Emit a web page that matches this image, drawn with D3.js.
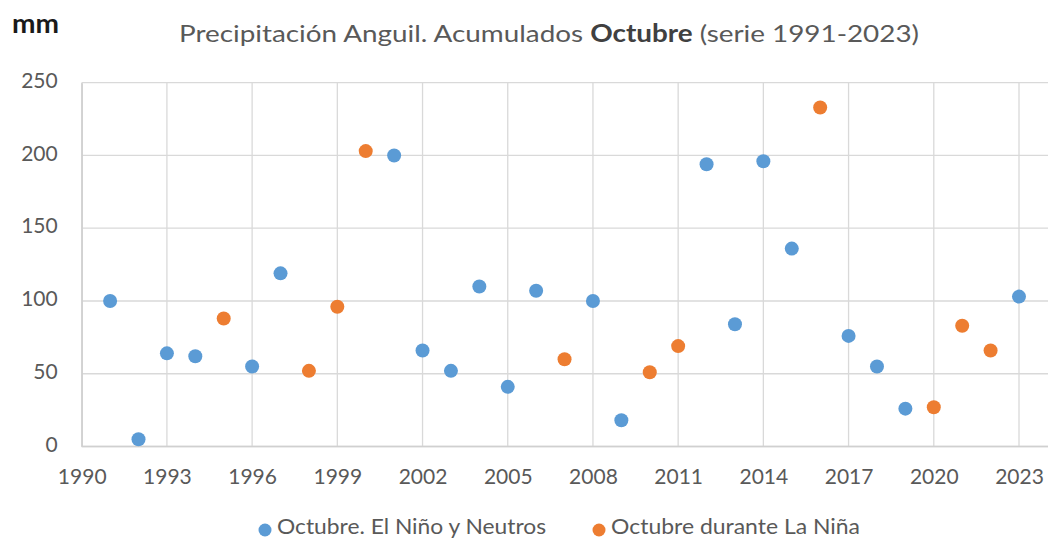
<!DOCTYPE html>
<html><head><meta charset="utf-8">
<script src="https://cdn.jsdelivr.net/npm/d3@7"></script>
<style>body{margin:0;background:#fff}svg{display:block}text{font-family:Lato,"Open Sans",sans-serif}</style>
</head><body>
<svg id="c" width="1048" height="539"></svg>
<script>
const ninoYears = [1991,1992,1993,1994,1996,1997,2001,2002,2003,2004,2005,2006,2008,2009,2012,2013,2014,2015,2017,2018,2019,2023];
const ninoValues = [100,5,64,62,55,119,200,66,52,110,41,107,100,18,194,84,196,136,76,55,26,103];
const ninaYears = [1995,1998,1999,2000,2007,2010,2011,2016,2020,2021,2022];
const ninaValues = [88,52,96,203,60,51,69,233,27,83,66];
const xTicks = [1990,1993,1996,1999,2002,2005,2008,2011,2014,2017,2020,2023];
const yTicks = [0,50,100,150,200,250];
const seriesNames = ["Octubre. El Niño y Neutros","Octubre durante La Niña"];
const titleParts = ["Precipitación Anguil. Acumulados ","Octubre"," (serie 1991-2023)"];

const svg = d3.select("#c");
const x = d3.scaleLinear().domain([1990,2024]).range([81.7,1047.4]);
const y = d3.scaleLinear().domain([0,250]).range([446.5,82.7]);
const grid = "#d9d9d9", txt = "#595959";

// gridlines
svg.append("g").selectAll("line").data(yTicks).join("line")
  .attr("x1",x(1990)).attr("x2",1048).attr("y1",d=>y(d)).attr("y2",d=>y(d))
  .attr("stroke",grid).attr("stroke-width",1.3);
svg.append("g").selectAll("line").data(xTicks).join("line")
  .attr("x1",d=>x(d)).attr("x2",d=>x(d)).attr("y1",y(250)).attr("y2",y(0))
  .attr("stroke",grid).attr("stroke-width",1.3);
svg.append("line").attr("x1",x(1990)).attr("x2",1048).attr("y1",y(0)).attr("y2",y(0)).attr("stroke","#d0d0d0").attr("stroke-width",1.5);

// axes
const ya = d3.axisLeft(y).tickValues(yTicks).tickSize(0).tickPadding(24);
const gy = svg.append("g").attr("transform",`translate(${x(1990)},0)`).call(ya);
gy.select(".domain").attr("stroke","#d0d0d0").attr("stroke-width",1.5);
gy.selectAll("text").attr("fill",txt).attr("font-size",21).attr("font-family","Lato").attr("dy","0.22em");
const xa = d3.axisBottom(x).tickValues(xTicks).tickFormat(d3.format("d")).tickSize(0);
const gx = svg.append("g").attr("transform",`translate(0,${y(0)})`).call(xa);
gx.select(".domain").remove();
gx.selectAll("text").attr("fill",txt).attr("font-size",21).attr("font-family","Lato").attr("y",37).attr("dy",0);

// points
svg.append("g").selectAll("circle").data(ninoYears.map((d,i)=>[d,ninoValues[i]])).join("circle")
  .attr("cx",d=>x(d[0])).attr("cy",d=>y(d[1])).attr("r",7).attr("fill","#5b9bd5");
svg.append("g").selectAll("circle").data(ninaYears.map((d,i)=>[d,ninaValues[i]])).join("circle")
  .attr("cx",d=>x(d[0])).attr("cy",d=>y(d[1])).attr("r",7).attr("fill","#ed7d31");

// title
const t = svg.append("text").attr("x",549).attr("y",42).attr("text-anchor","middle")
  .attr("font-size",24).attr("fill",txt).attr("textLength",740).attr("lengthAdjust","spacingAndGlyphs");
t.append("tspan").text(titleParts[0]);
t.append("tspan").attr("font-weight","bold").attr("fill","#404040").text(titleParts[1]);
t.append("tspan").text(titleParts[2]);
svg.append("text").attr("x",12).attr("y",33).attr("font-size",27).attr("font-weight","bold").attr("fill","#1a1a1a")
  .attr("textLength",47).attr("lengthAdjust","spacingAndGlyphs").text("mm");

// legend
const lg = [{x:265,c:"#5b9bd5",t:seriesNames[0],w:269},{x:599,c:"#ed7d31",t:seriesNames[1],w:249}];
lg.forEach(l=>{
  svg.append("circle").attr("cx",l.x).attr("cy",530).attr("r",6.5).attr("fill",l.c);
  svg.append("text").attr("x",l.x+12).attr("y",533.5).attr("font-size",21).attr("fill",txt)
    .attr("textLength",l.w).attr("lengthAdjust","spacingAndGlyphs").text(l.t);
});
</script>
</body></html>
